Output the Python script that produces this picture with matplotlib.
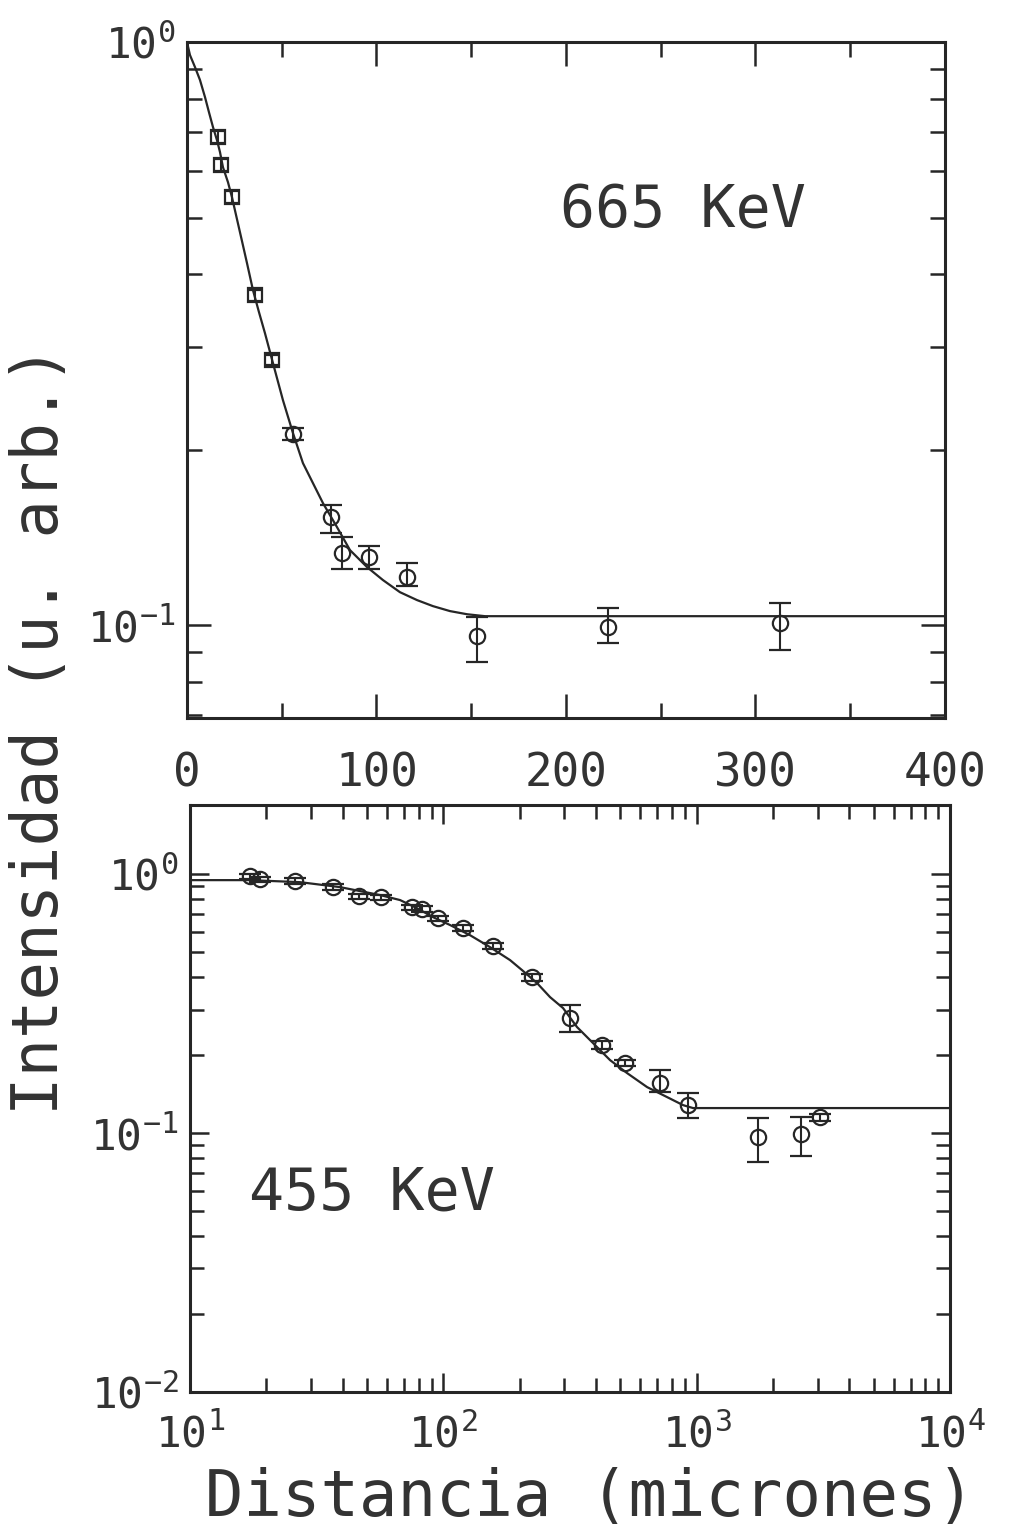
import matplotlib
matplotlib.use('Agg')
import matplotlib.pyplot as plt
from matplotlib import ticker

plt.rcParams['font.family'] = ['DejaVu Sans Mono', 'DejaVu Sans']
INK = '#262626'
TXT = '#333333'

# 665 KeV panel (linear distance)
x_top = [16.4, 18.0, 24.0, 36.0, 45.0, 56.0, 76.0, 82.0, 96.0, 116.0, 153.0, 222.0, 313.0]
y_top = [0.687, 0.615, 0.542, 0.368, 0.285, 0.213, 0.153, 0.133, 0.131, 0.121, 0.0957, 0.0993, 0.1008]
lo_top = [0.670, 0.600, 0.530, 0.360, 0.279, 0.208, 0.144, 0.125, 0.125, 0.1167, 0.0864, 0.0931, 0.0906]
hi_top = [0.705, 0.630, 0.555, 0.376, 0.291, 0.218, 0.161, 0.1416, 0.1367, 0.128, 0.1033, 0.107, 0.109]
n_square = 5

fit_top_x = [0, 1.58, 4.22, 6.86, 9.50, 11.61, 13.72, 15.83, 17.41, 19.0, 21.64, 23.75, 26.39,
             29.02, 31.66, 34.83, 38.0, 41.16, 45.38, 50.66, 55.94, 61.21, 66.49, 71.77, 79.16,
             86.02, 94.99, 103.4, 112.4, 121.4, 129.8, 138.8, 147.8, 157.3, 400]
fit_top_y = [1.0, 0.950, 0.906, 0.861, 0.805, 0.758, 0.715, 0.679, 0.648, 0.610, 0.575, 0.542,
             0.497, 0.456, 0.418, 0.3755, 0.3442, 0.3168, 0.2815, 0.2431, 0.2135, 0.1896, 0.1752,
             0.1619, 0.1473, 0.1345, 0.1258, 0.1195, 0.1139, 0.1104, 0.1078, 0.1057, 0.1044,
             0.1036, 0.1036]

# 455 KeV panel (log distance)
x_bot = [17.25, 18.9, 26.0, 36.7, 46.5, 56.8, 75.2, 82.4, 95.3, 119.6, 157.1, 224.0,
         316.0, 423.0, 522.0, 717.0, 925.0, 1748.0, 2584.0, 3070.0]
y_bot = [0.982, 0.956, 0.940, 0.891, 0.822, 0.815, 0.746, 0.733, 0.676, 0.619, 0.527, 0.400,
         0.278, 0.2187, 0.1864, 0.156, 0.1282, 0.0965, 0.0991, 0.1153]
lo_bot = [0.960, 0.935, 0.920, 0.872, 0.805, 0.798, 0.730, 0.716, 0.660, 0.605, 0.514, 0.388,
          0.2455, 0.212, 0.181, 0.144, 0.1143, 0.0773, 0.0815, 0.111]
hi_bot = [1.005, 0.978, 0.962, 0.912, 0.840, 0.833, 0.763, 0.750, 0.692, 0.634, 0.540, 0.413,
          0.312, 0.226, 0.192, 0.175, 0.1427, 0.1143, 0.1153, 0.119]

fit_bot_x = [10, 17.25, 27.2, 39.1, 56.3, 67.5, 78.7, 91.1, 106.3, 127.5, 152.9, 183.4, 204.5,
             234.4, 263.8, 296.9, 337.2, 389.9, 455.2, 531.2, 637.3, 764.2, 883.8, 967.8, 10000]
fit_bot_y = [0.948, 0.948, 0.931, 0.891, 0.830, 0.794, 0.739, 0.682, 0.636, 0.581, 0.5225,
             0.4656, 0.4259, 0.3795, 0.335, 0.3039, 0.2566, 0.2226, 0.1913, 0.1705, 0.1505,
             0.1377, 0.1282, 0.1249, 0.1249]

fig = plt.figure(figsize=(10.1, 15.28), dpi=100)
ax1 = fig.add_axes([0.1851, 0.5301, 0.7505, 0.4424])
ax2 = fig.add_axes([0.1881, 0.0890, 0.7525, 0.3842])


def errs(y, lo, hi):
    return [[a - b for a, b in zip(y, lo)], [b - a for a, b in zip(y, hi)]]


def style(ax):
    for s in ax.spines.values():
        s.set_linewidth(2.2)
        s.set_color(INK)
    ax.tick_params(which='both', direction='in', top=True, right=True,
                   color=INK, labelcolor=TXT, width=1.8)
    ax.tick_params(which='major', length=17)
    ax.tick_params(which='minor', length=11)
    ax.yaxis.set_minor_formatter(ticker.NullFormatter())


# top panel
ax1.plot(fit_top_x, fit_top_y, color=INK, lw=1.6)
e = errs(y_top, lo_top, hi_top)
ax1.errorbar(x_top[:n_square], y_top[:n_square],
             yerr=[e[0][:n_square], e[1][:n_square]], fmt='s', mfc='none',
             mec=INK, ms=10, mew=1.6, ecolor=INK, elinewidth=1.5, capsize=6, capthick=1.5)
ax1.errorbar(x_top[n_square:], y_top[n_square:],
             yerr=[e[0][n_square:], e[1][n_square:]], fmt='o', mfc='none',
             mec=INK, ms=11, mew=1.6, ecolor=INK, elinewidth=1.5, capsize=8, capthick=1.5)
ax1.set_yscale('log')
ax1.set_xlim(0, 400)
ax1.set_ylim(0.0693, 1.0)
ax1.xaxis.set_major_locator(ticker.MultipleLocator(100))
ax1.xaxis.set_minor_locator(ticker.MultipleLocator(50))
style(ax1)
ax1.tick_params(axis='x', which='major', labelsize=33, pad=24)
ax1.tick_params(axis='y', which='major', labelsize=31, pad=8)
ax1.text(0.654, 0.751, '665 KeV', transform=ax1.transAxes, fontsize=42,
         ha='center', va='center', color=TXT)

# bottom panel
ax2.plot(fit_bot_x, fit_bot_y, color=INK, lw=1.6)
ax2.errorbar(x_bot, y_bot, yerr=errs(y_bot, lo_bot, hi_bot), fmt='o', mfc='none',
             mec=INK, ms=11, mew=1.6, ecolor=INK, elinewidth=1.5, capsize=8, capthick=1.5)
ax2.set_xscale('log')
ax2.set_yscale('log')
ax2.set_xlim(10, 10000)
ax2.set_ylim(0.01, 1.85)
ax2.xaxis.set_minor_formatter(ticker.NullFormatter())
style(ax2)
ax2.tick_params(which='major', length=14)
ax2.tick_params(which='minor', length=10)
ax2.tick_params(axis='x', which='major', labelsize=31, pad=16)
ax2.tick_params(axis='y', which='major', labelsize=31, pad=8)
ax2.text(0.2395, 0.339, '455 KeV', transform=ax2.transAxes, fontsize=42,
         ha='center', va='center', color=TXT)

fig.text(590 / 1010, 1 - 1498 / 1528, 'Distancia (micrones)', fontsize=46,
         ha='center', va='center', color=TXT)
fig.text(40 / 1010, 1 - 730 / 1528, 'Intensidad (u. arb.)', fontsize=46,
         ha='center', va='center', rotation=90, color=TXT)

fig.savefig('out.png', dpi=100)
